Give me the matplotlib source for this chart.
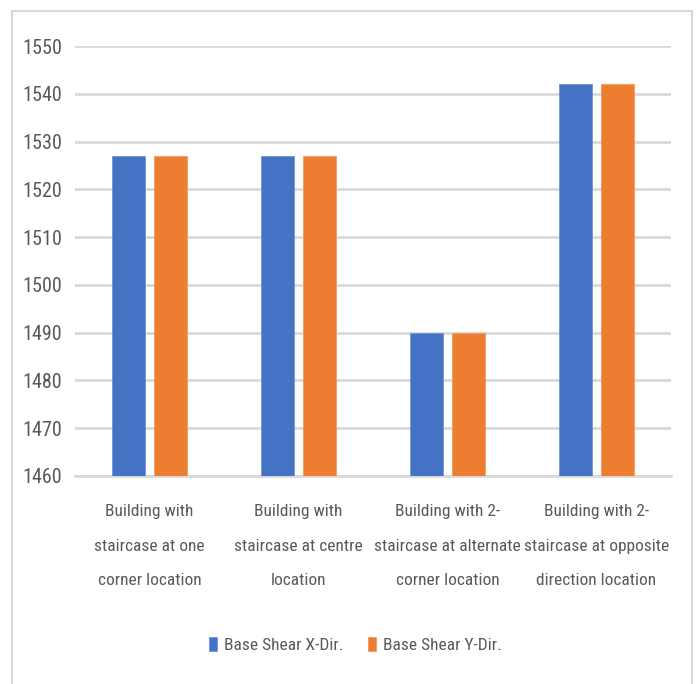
import numpy as np
import matplotlib
matplotlib.use("Agg")
import matplotlib.pyplot as plt
from matplotlib.patches import Rectangle

# Base shear values for each staircase arrangement
categories = [
    "Building with\nstaircase at one\ncorner location",
    "Building with\nstaircase at centre\nlocation",
    "Building with 2-\nstaircase at alternate\ncorner location",
    "Building with 2-\nstaircase at opposite\ndirection location",
]
shear_x = [1527, 1527, 1490, 1542]
shear_y = [1527, 1527, 1490, 1542]
y_ticks = [1460, 1470, 1480, 1490, 1500, 1510, 1520, 1530, 1540, 1550]

plt.rcParams["font.family"] = ["Roboto Condensed", "DejaVu Sans"]
text_color = "#595959"
grid_color = "#d9d9d9"

fig = plt.figure(figsize=(6.97, 6.84), dpi=100)
ax = fig.add_axes([0.1076, 0.3041, 0.855, 0.6286])

x = np.arange(len(categories))
w = 0.222
ax.bar(x - 0.141, shear_x, w, color="#4472C4", edgecolor="#6f93d6", linewidth=0.6,
       label="Base Shear X-Dir.", zorder=3)
ax.bar(x + 0.141, shear_y, w, color="#ED7D31", edgecolor="#f29a5f", linewidth=0.6,
       label="Base Shear Y-Dir.", zorder=3)

ax.set_xlim(-0.5, len(categories) - 0.5)
ax.set_ylim(1460, 1550)
ax.set_yticks(y_ticks)
ax.set_xticks(x, categories, linespacing=2.65)
ax.yaxis.grid(True, color=grid_color, linewidth=2, zorder=0)
ax.set_axisbelow(True)
for s in ["top", "right", "left"]:
    ax.spines[s].set_visible(False)
ax.spines["bottom"].set_color(grid_color)
ax.spines["bottom"].set_linewidth(2)
ax.tick_params(axis="y", length=0, pad=9, labelsize=14.5, labelcolor=text_color)
ax.tick_params(axis="x", length=0, pad=20, labelsize=12.5, labelcolor=text_color)

fig.legend(loc="center", bbox_to_anchor=(0.51, 1 - 645 / 684), ncol=2, frameon=False,
           fontsize=12.5, labelcolor=text_color, handlelength=0.45, handleheight=0.9,
           handletextpad=0.4, columnspacing=1.4)

# light frame around the chart
fig.patches.append(Rectangle((12 / 697, -0.05), 680 / 697, 1.05 - 11 / 684,
                             transform=fig.transFigure, fill=False,
                             edgecolor=grid_color, linewidth=1.5))

fig.savefig("out.png", dpi=100)
